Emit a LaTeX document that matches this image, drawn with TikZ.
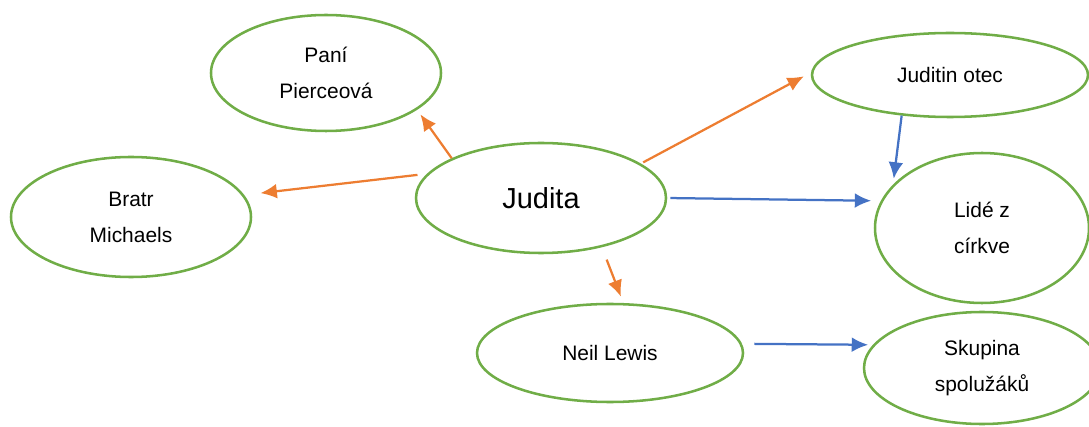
\documentclass[tikz,border=0pt]{standalone}
\usepackage{fontspec}
\setmainfont{Liberation Sans}
\usetikzlibrary{shapes.geometric,arrows.meta}
\definecolor{osagreen}{RGB}{112,173,71}
\definecolor{osaorange}{RGB}{237,125,49}
\definecolor{osablue}{RGB}{68,114,196}
\begin{document}
\begin{tikzpicture}[
  person/.style={ellipse,draw=osagreen,line width=1.8pt,inner sep=0pt,align=center,
    font=\fontsize{14.9}{25.6}\selectfont},
  toorange/.style={osaorange,line width=1.6pt,-{Latex[length=0.41cm,width=0.37cm]}},
  toblue/.style={osablue,line width=1.6pt,-{Latex[length=0.41cm,width=0.37cm]}}]
  \useasboundingbox (0,0) rectangle (27.225,10.65);
  \node [person,minimum width=5.75cm,minimum height=2.9cm] (pani) at (8.15,8.825) {Paní\\Pierceová};
  \node [person,minimum width=6cm,minimum height=3cm] (bratr) at (3.275,5.225) {Bratr\\Michaels};
  \node [person,minimum width=6.25cm,minimum height=2.75cm,font=\fontsize{20.6}{24}\selectfont] (judita) at (13.525,5.7) {Judita};
  \node [person,minimum width=6.9cm,minimum height=2.1cm] (otec) at (23.75,8.775) {Juditin otec};
  \node [person,minimum width=5.35cm,minimum height=3.75cm] (lide) at (24.55,4.95) {Lidé z\\církve};
  \node [person,minimum width=6.65cm,minimum height=2.45cm] (neil) at (15.25,1.825) {Neil Lewis};
  \node [person,minimum width=5.9cm,minimum height=2.8cm] (skupina) at (24.55,1.45) {Skupina\\spolužáků};
  % orange arrows from Judita
  \draw [toorange,shorten >=0.14cm] (judita.156.4) -- (pani.-22.1);
  \draw [toorange,shorten <=0.24cm,shorten >=0.41cm] (judita.168.5) -- (bratr.11.3);
  \draw [toorange,shorten <=0.065cm,shorten >=0.2cm] (judita.19.8) -- (otec.179.75);
  \draw [toorange,shorten <=0.33cm,shorten >=0.17cm] (judita.-39.3) -- (neil.75.7);
  % blue arrows
  \draw [toblue,shorten <=0.075cm,shorten >=0.24cm] (judita.0.96) -- (lide.165.7);
  \draw [toblue,shorten >=0.15cm] (otec.220.7) -- (lide.154.6);
  \draw [toblue,shorten <=0.31cm,shorten >=0.12cm] (neil.4.4) -- (skupina.168.8);
\end{tikzpicture}
\end{document}
